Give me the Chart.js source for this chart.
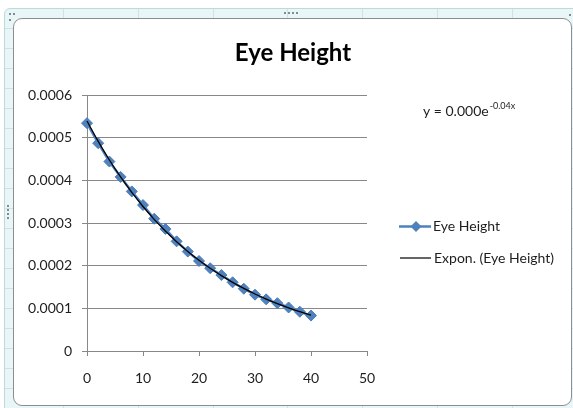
<!DOCTYPE html>
<html>
<head>
<meta charset="utf-8">
<title>Eye Height</title>
<script src="https://cdn.jsdelivr.net/npm/chart.js@4/dist/chart.umd.min.js"></script>
<style>
  html, body { margin: 0; padding: 0; background: #ffffff; }
  body { width: 573px; height: 408px; position: relative; overflow: hidden; }
  /* worksheet frame around the embedded chart */
  #frame {
    position: absolute; left: 4px; top: 8px; width: 580px; height: 410px;
    background-color: #e8f6f8;
    background-image:
      repeating-linear-gradient(to right, transparent 0, transparent 58px, #cfe3e6 58px, #cfe3e6 59px, transparent 59px, transparent 74.8px),
      repeating-linear-gradient(to bottom, transparent 0, transparent 19px, #cfe3e6 19px, #cfe3e6 20px);
    border: 1px solid #bcd9de;
    border-radius: 6px;
    box-sizing: border-box;
  }
  #box {
    position: absolute; left: 13px; top: 18px; width: 559px; height: 388px;
    background: #ffffff;
    border: 1px solid #8e8e8e;
    border-radius: 9px;
    box-sizing: border-box;
  }
  .grip { position: absolute; width: 2px; height: 2px; background: #7d8d90; }
  #chart { position: absolute; left: 0; top: 0; }
</style>
</head>
<body>
<div id="frame"></div>
<div id="box"></div>
<div class="grip" style="left:9px;top:13px"></div>
<div class="grip" style="left:13px;top:13px"></div>
<div class="grip" style="left:9px;top:19px"></div>
<div class="grip" style="left:284px;top:12px"></div>
<div class="grip" style="left:288px;top:12px"></div>
<div class="grip" style="left:292px;top:12px"></div>
<div class="grip" style="left:296px;top:12px"></div>
<div class="grip" style="left:569px;top:14px"></div>
<div class="grip" style="left:7px;top:205px"></div>
<div class="grip" style="left:7px;top:209px"></div>
<div class="grip" style="left:7px;top:213px"></div>
<div class="grip" style="left:7px;top:217px"></div>
<canvas id="chart" width="573" height="408"></canvas>
<script>
// Measurement points (x) and measured eye height values
const xValues = [0, 2, 4, 6, 8, 10, 12, 14, 16, 18, 20, 22, 24, 26, 28, 30, 32, 34, 36, 38, 40];
const eyeHeight = [0.000534, 0.000487, 0.000444, 0.000408, 0.000374, 0.000342, 0.000310, 0.000286,
                   0.000257, 0.000233, 0.000211, 0.000194, 0.000178, 0.000161, 0.000146, 0.000132,
                   0.000121, 0.000112, 0.000102, 0.000092, 0.000083];

// Axis ranges and tick steps
const xAxisRange = [0, 50, 10];
const yAxisRange = [0, 0.0006, 0.0001];

// Text
const chartTitle = 'Eye Height';
const seriesName = 'Eye Height';
const trendName = 'Expon. (Eye Height)';
const equationBase = 'y = 0.000e';
const equationExp = '-0.04x';

// Exponential least-squares fit (linear regression on ln y), as a spreadsheet trendline does
function expFit(xs, ys) {
  const n = xs.length;
  let sx = 0, sy = 0, sxx = 0, sxy = 0;
  for (let i = 0; i < n; i++) {
    const ly = Math.log(ys[i]);
    sx += xs[i]; sy += ly; sxx += xs[i] * xs[i]; sxy += xs[i] * ly;
  }
  const b = (n * sxy - sx * sy) / (n * sxx - sx * sx);
  const a = Math.exp((sy - b * sx) / n);
  return { a, b };
}
const fit = expFit(xValues, eyeHeight);
const trendValues = xValues.map(x => fit.a * Math.exp(fit.b * x));

const BLUE = '#4f81bd';
const BLUE_EDGE = '#4a7cb8';
const GRID = '#888888';
const TEXT = '#1e1e1e';
const FONT = 'Lato, "Open Sans", sans-serif';

// Title, trendline equation and legend drawn in the space around the plot
const decorations = {
  id: 'decorations',
  afterDraw(chart) {
    const ctx = chart.ctx;
    ctx.save();
    ctx.fillStyle = '#000000';
    ctx.font = 'bold 24px ' + FONT;
    ctx.textAlign = 'center';
    ctx.textBaseline = 'alphabetic';
    ctx.fillText(chartTitle, 293, 61);

    ctx.fillStyle = TEXT;
    ctx.textAlign = 'left';
    ctx.font = '14px ' + FONT;
    ctx.fillText(equationBase, 423, 116);
    const w = ctx.measureText(equationBase).width;
    ctx.font = '9px ' + FONT;
    ctx.fillText(equationExp, 423 + w + 1, 109);

    // legend: data series (line with diamond marker)
    ctx.strokeStyle = BLUE;
    ctx.lineWidth = 2.5;
    ctx.beginPath();
    ctx.moveTo(399, 226.5);
    ctx.lineTo(431, 226.5);
    ctx.stroke();
    ctx.fillStyle = BLUE;
    ctx.beginPath();
    ctx.moveTo(410.5, 226.5); ctx.lineTo(416, 221); ctx.lineTo(421.5, 226.5); ctx.lineTo(416, 232);
    ctx.closePath();
    ctx.fill();

    // legend: trendline
    ctx.strokeStyle = '#000000';
    ctx.lineWidth = 1.2;
    ctx.beginPath();
    ctx.moveTo(400, 258);
    ctx.lineTo(431, 258);
    ctx.stroke();

    ctx.fillStyle = TEXT;
    ctx.font = '14px ' + FONT;
    ctx.textBaseline = 'middle';
    ctx.fillText(seriesName, 433, 226.5);
    ctx.fillText(trendName, 434, 258);
    ctx.restore();
  }
};

new Chart(document.getElementById('chart'), {
  type: 'scatter',
  data: {
    datasets: [
      {
        label: trendName,
        data: xValues.map((x, i) => ({ x, y: trendValues[i] })),
        showLine: true,
        borderColor: '#000000',
        borderWidth: 1.3,
        pointRadius: 0,
        tension: 0.4,
        clip: false,
        order: 0
      },
      {
        label: seriesName,
        data: xValues.map((x, i) => ({ x, y: eyeHeight[i] })),
        showLine: true,
        borderColor: BLUE,
        borderWidth: 2.5,
        backgroundColor: BLUE,
        pointStyle: 'rectRot',
        pointRadius: 5.5,
        pointBackgroundColor: BLUE,
        pointBorderColor: BLUE_EDGE,
        pointBorderWidth: 1,
        clip: false,
        order: 1
      }
    ]
  },
  options: {
    responsive: false,
    animation: false,
    devicePixelRatio: 1,
    layout: { padding: { left: 0, top: 95, right: 206, bottom: 0 } },
    plugins: {
      legend: { display: false },
      title: { display: false },
      tooltip: { enabled: false }
    },
    scales: {
      x: {
        type: 'linear',
        min: xAxisRange[0],
        max: xAxisRange[1],
        afterFit(scale) { scale.height = 57; },
        ticks: {
          stepSize: xAxisRange[2],
          color: TEXT,
          font: { family: FONT, size: 14 },
          padding: 14,
          maxRotation: 0
        },
        grid: { display: true, drawOnChartArea: false, drawTicks: true, tickLength: 5, color: GRID, lineWidth: 1 },
        border: { display: true, color: GRID, width: 1 }
      },
      y: {
        type: 'linear',
        min: yAxisRange[0],
        max: yAxisRange[1],
        afterFit(scale) { scale.width = 87; },
        ticks: {
          stepSize: yAxisRange[2],
          color: TEXT,
          font: { family: FONT, size: 14 },
          padding: 10,
          callback: v => (Math.abs(v) < 1e-12 ? '0' : v.toFixed(4))
        },
        grid: { display: true, drawTicks: true, tickLength: 5, color: GRID, lineWidth: 1 },
        border: { display: true, color: GRID, width: 1 }
      }
    }
  },
  plugins: [decorations]
});
</script>
</body>
</html>
